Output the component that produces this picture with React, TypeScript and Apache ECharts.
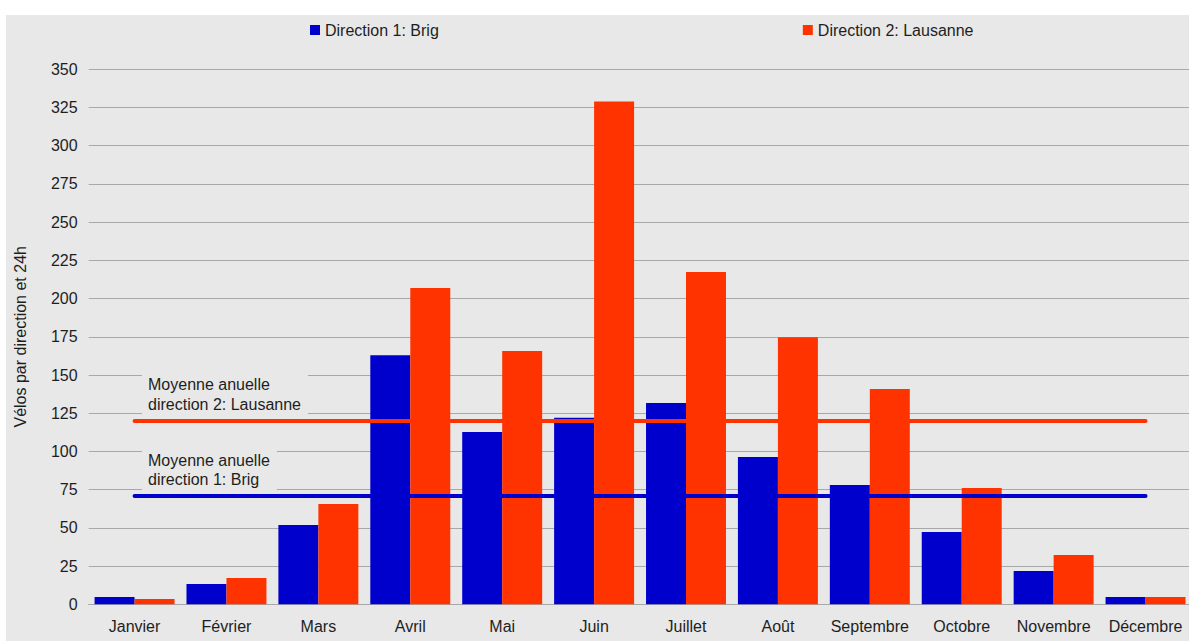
import React, { useEffect, useRef } from "react";
import * as echarts from "echarts";

const MONTHS = ["Janvier", "Février", "Mars", "Avril", "Mai", "Juin", "Juillet", "Août", "Septembre", "Octobre", "Novembre", "Décembre"];
const BRIG = [4.8, 13.3, 51.9, 163, 112.7, 122, 131.7, 96.4, 78, 47.3, 21.8, 4.8];
const LAUSANNE = [3.5, 17.2, 65.6, 207, 165.7, 329, 217.4, 174.7, 140.8, 76.1, 32.3, 4.8];
const AVG_BRIG = 71;
const AVG_LAUSANNE = 120;
const SERIES_NAMES = ["Direction 1: Brig", "Direction 2: Lausanne"];
const Y_NAME = "Vélos par direction et 24h";
const LABEL_LAUSANNE = "Moyenne anuelle\ndirection 2: Lausanne";
const LABEL_BRIG = "Moyenne anuelle\ndirection 1: Brig";

const BLUE = "#0000CC";
const RED = "#FF3300";
const BG = "#e8e8e8";
const GRID = "#a8a8a8";
const TXT = "#1e1e1e";
const FONT = "'Liberation Sans', Arial, sans-serif";

export default function App() {
  const ref = useRef<HTMLDivElement>(null);
  useEffect(() => {
    if (!ref.current) return;
    const chart = echarts.init(ref.current, null, { renderer: "svg" });
    const labelStyle = (text: string) => ({
      text,
      font: `16px ${FONT}`,
      fill: TXT,
      backgroundColor: BG,
      padding: [4, 7, 4, 6],
      lineHeight: 19.5,
    });
    chart.setOption({
      animation: false,
      backgroundColor: BG,
      textStyle: { fontFamily: FONT },
      legend: {
        data: SERIES_NAMES,
        left: 304,
        top: 7,
        padding: 0,
        itemGap: 364,
        itemWidth: 10,
        itemHeight: 10,
        icon: "rect",
        textStyle: { fontSize: 16, color: TXT, fontFamily: FONT },
      },
      grid: { left: 82.6, top: 54.3, width: 1102.9, height: 535, outerBoundsMode: "none", containLabel: false },
      xAxis: {
        type: "category",
        data: MONTHS,
        axisTick: { show: false },
        axisLine: { lineStyle: { color: GRID, width: 1 } },
        axisLabel: { fontSize: 16, color: TXT, margin: 14, interval: 0, fontFamily: FONT },
      },
      yAxis: {
        type: "value",
        min: 0,
        max: 350,
        interval: 25,
        name: Y_NAME,
        nameLocation: "middle",
        nameGap: 60,
        nameTextStyle: { fontSize: 16, color: TXT, fontFamily: FONT },
        axisLine: { show: false },
        axisTick: { show: false },
        axisLabel: { fontSize: 16, color: TXT, margin: 11, fontFamily: FONT },
        splitLine: { lineStyle: { color: GRID, width: 1 } },
      },
      series: [
        {
          name: SERIES_NAMES[0],
          type: "bar",
          data: BRIG,
          barGap: "0%",
          barCategoryGap: "13%",
          itemStyle: { color: BLUE },
        },
        {
          name: SERIES_NAMES[1],
          type: "bar",
          data: LAUSANNE,
          barGap: "0%",
          barCategoryGap: "13%",
          itemStyle: { color: RED },
        },
        {
          name: "averages",
          type: "line",
          data: [],
          z: 10,
          markLine: {
            silent: true,
            symbol: "none",
            label: { show: false },
            data: [
              [
                { coord: [MONTHS[0], AVG_LAUSANNE], lineStyle: { color: RED, width: 4, type: "solid", cap: "round" } },
                { coord: [MONTHS[MONTHS.length - 1], AVG_LAUSANNE] },
              ],
              [
                { coord: [MONTHS[0], AVG_BRIG], lineStyle: { color: BLUE, width: 4, type: "solid", cap: "round" } },
                { coord: [MONTHS[MONTHS.length - 1], AVG_BRIG] },
              ],
            ],
          },
        },
      ],
      graphic: [
        { type: "text", left: 136, top: 356.2, z: 5, style: labelStyle(LABEL_LAUSANNE) },
        { type: "text", left: 136, top: 431.7, z: 5, style: labelStyle(LABEL_BRIG) },
      ],
    });
    return () => chart.dispose();
  }, []);
  return (
    <div style={{ position: "absolute", left: 0, top: 0, width: 1189, height: 641, background: "#fff", overflow: "hidden" }}>
      <div ref={ref} style={{ position: "absolute", left: 6, top: 15, width: 1183, height: 626 }} />
    </div>
  );
}
